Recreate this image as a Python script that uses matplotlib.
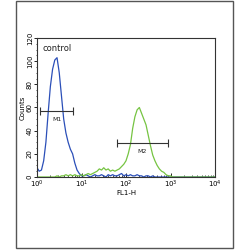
import matplotlib.pyplot as plt
import numpy as np
from matplotlib.patches import Rectangle
from matplotlib.ticker import FixedLocator, MultipleLocator, LogLocator, NullFormatter

# histogram counts on a 0.05-decade channel grid, log10(FL1-H) from 0 to 4
log_start, log_stop, log_step = 0.0, 4.0, 0.05

control_counts = [
    8, 5, 6, 14, 30, 55, 78, 93, 101, 103,
    90, 70, 50, 38, 30, 24, 20, 12, 6, 3,
    1, 1, 2, 1, 0, 1, 2, 1, 1, 2,
    1, 0, 2, 1, 2, 1, 1, 2, 3, 1,
    2, 1, 2, 1, 1, 2, 1, 1, 0, 1,
    1, 0, 1, 0, 0, 0, 0, 0, 0, 0,
    0, 0, 0, 0, 0, 0, 0, 0, 0, 0,
    0, 0, 0, 0, 0, 0, 0, 0, 0, 0,
    0,
]
sample_counts = [
    0, 0, 0, 0, 0, 0, 0, 0, 0, 1,
    0, 1, 1, 2, 1, 2, 1, 2, 1, 1,
    2, 1, 2, 3, 2, 3, 4, 5, 7, 6,
    8, 6, 7, 5, 6, 5, 6, 7, 9, 11,
    14, 20, 28, 42, 52, 58, 60, 55, 50, 45,
    36, 27, 19, 14, 10, 7, 5, 4, 2, 1,
    1, 0, 0, 0, 0, 0, 0, 0, 0, 0,
    0, 0, 0, 0, 0, 0, 0, 0, 0, 0,
    0,
]

# gate markers: (label, low, high, level)
markers = [("M1", 1.17, 6.5, 57), ("M2", 63, 880, 29)]

x_ticks = [1, 10, 100, 1000, 10000]
x_tick_labels = [r"$10^0$", r"$10^1$", r"$10^2$", r"$10^3$", r"$10^4$"]
y_ticks = [0, 20, 40, 60, 80, 100, 120]

channels = 10 ** np.arange(log_start, log_stop + log_step / 2, log_step)

fig = plt.figure(figsize=(2.5, 2.5), dpi=100)
fig.patches.append(Rectangle((0.064, 0.008), 0.868, 0.99, transform=fig.transFigure,
                             fill=False, edgecolor="#555555", linewidth=1.0))
ax = fig.add_axes([0.148, 0.292, 0.712, 0.556])

ax.plot(channels, control_counts, color="#2b4fb8", linewidth=0.9)
ax.plot(channels, sample_counts, color="#76c442", linewidth=0.9)

for label, lo, hi, level in markers:
    ax.hlines(level, lo, hi, color="#333333", linewidth=0.8)
    ax.vlines([lo, hi], level - 3.5, level + 3.5, color="#333333", linewidth=0.8)
    mid = np.sqrt(lo * hi)
    ax.text(mid, level - 5, label, ha="center", va="top", fontsize=4.5, color="#222222")

ax.text(1.3, 107, "control", fontsize=6, color="#222222", va="bottom")

ax.set_xscale("log")
ax.set_xlim(1, 10000)
ax.set_ylim(0, 120)
ax.xaxis.set_major_locator(FixedLocator(x_ticks))
ax.set_xticklabels(x_tick_labels)
ax.xaxis.set_minor_locator(LogLocator(base=10, subs=np.arange(2, 10)))
ax.xaxis.set_minor_formatter(NullFormatter())
ax.set_yticks(y_ticks)
ax.yaxis.set_minor_locator(MultipleLocator(5))
ax.tick_params(axis="x", which="major", direction="in", length=3, width=0.6,
               labelsize=5, pad=1.5)
ax.tick_params(axis="x", which="minor", direction="in", length=1.5, width=0.5)
ax.tick_params(axis="y", which="major", direction="out", length=2, width=0.6,
               labelsize=5, pad=1, labelrotation=90)
ax.tick_params(axis="y", which="minor", direction="out", length=1, width=0.5)
for t in ax.get_yticklabels():
    t.set_va("center")

ax.set_xlabel("FL1-H", fontsize=5, labelpad=0)
ax.set_ylabel("Counts", fontsize=5, labelpad=1)
for spine in ax.spines.values():
    spine.set_linewidth(0.8)
    spine.set_color("#333333")

plt.savefig("out.png", dpi=100)
plt.close()
